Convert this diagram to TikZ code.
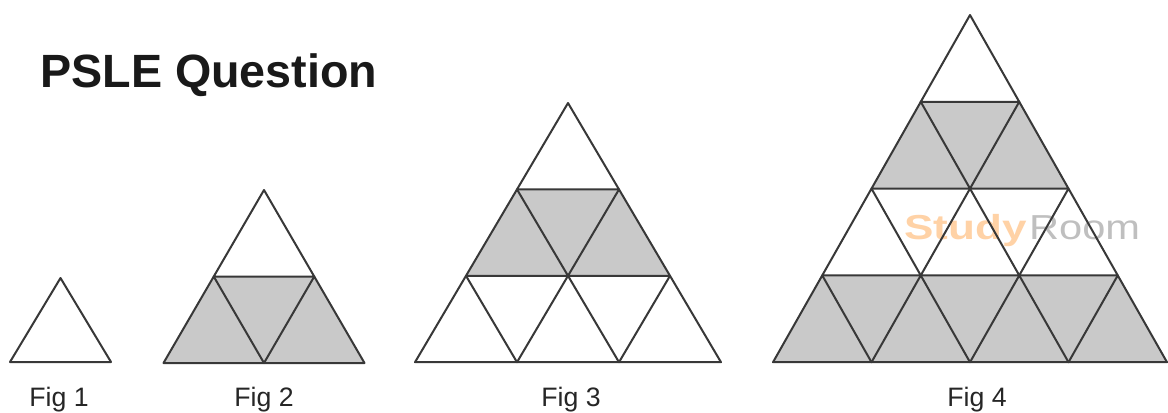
\documentclass[tikz,border=0pt]{standalone}
\usepackage{fontspec}
\setmainfont{Liberation Sans}
\usepackage{graphicx}
\tikzset{
  edge/.style={draw=black!78, line width=1.5pt, line join=round},
  shaded/.style={fill=black!21},
  figlabel/.style={font=\fontsize{20}{24}\selectfont, text=black!85, anchor=base, inner sep=0pt},
  title/.style={font=\bfseries\fontsize{35}{40}\selectfont, text=black!90, anchor=base west, inner sep=0pt},
}
% #1 cx, #2 apex y, #3 rows, #4 side, #5 row height
\newcommand\pyrlines[5]{%
  \foreach \r in {1,...,#3} {
    \foreach \k in {1,...,\r} {
      \pgfmathsetmacro\px{#1+(\k-(\r+1)/2)*#4}
      \pgfmathsetmacro\pyt{#2+(\r-1)*#5}
      \pgfmathsetmacro\pyb{#2+\r*#5}
      \pgfmathsetmacro\pxl{\px-#4/2}
      \pgfmathsetmacro\pxr{\px+#4/2}
      \draw[edge] (\px,\pyt) -- (\pxr,\pyb) -- (\pxl,\pyb) -- cycle;
    }
  }
}
% #1 cx, #2 apex y, #3 row to shade, #4 side, #5 row height
\newcommand\pyrband[5]{%
  \pgfmathsetmacro\pyt{#2+(#3-1)*#5}
  \pgfmathsetmacro\pyb{#2+#3*#5}
  \pgfmathsetmacro\pxtl{#1-(#3-1)*#4/2}
  \pgfmathsetmacro\pxtr{#1+(#3-1)*#4/2}
  \pgfmathsetmacro\pxbl{#1-#3*#4/2}
  \pgfmathsetmacro\pxbr{#1+#3*#4/2}
  \fill[shaded] (\pxtl,\pyt) -- (\pxtr,\pyt) -- (\pxbr,\pyb) -- (\pxbl,\pyb) -- cycle;
}
\begin{document}
\begin{tikzpicture}[x=0.75pt,y=-0.75pt]
\useasboundingbox (0,0) rectangle (1168,412);
\fill[white] (0,0) rectangle (1168,412);

% title
\node[title] (ttl) at (40,87) {PSLE Question};

% shaded bands
\pyrband{264}{190}{2}{100.5}{86.5}
\pyrband{568}{103}{2}{102}{86.4}
\pyrband{970}{15}{2}{98.5}{86.8}
\pyrband{970}{15}{4}{98.5}{86.8}

% watermark
\node[anchor=base west, inner sep=0pt, text=orange!35, font=\bfseries\fontsize{26}{30}\selectfont] (wm1) at (904,239) {\scalebox{1.27}[1]{Study}};
\node[anchor=base west, inner sep=0pt, text=black!25, font=\fontsize{26}{30}\selectfont] (wm2) at ([xshift=1.5pt]wm1.base east) {\scalebox{1.2}[1]{Room}};

% grid lines
\pyrlines{60.5}{278}{1}{101}{84}
\pyrlines{264}{190}{2}{100.5}{86.5}
\pyrlines{568}{103}{3}{102}{86.4}
\pyrlines{970}{15}{4}{98.5}{86.8}

% labels
\node[figlabel] (f1) at (59,406) {Fig 1};
\node[figlabel] (f2) at (264,406) {Fig 2};
\node[figlabel] (f3) at (571,406) {Fig 3};
\node[figlabel] (f4) at (977,406) {Fig 4};
\end{tikzpicture}
\end{document}
